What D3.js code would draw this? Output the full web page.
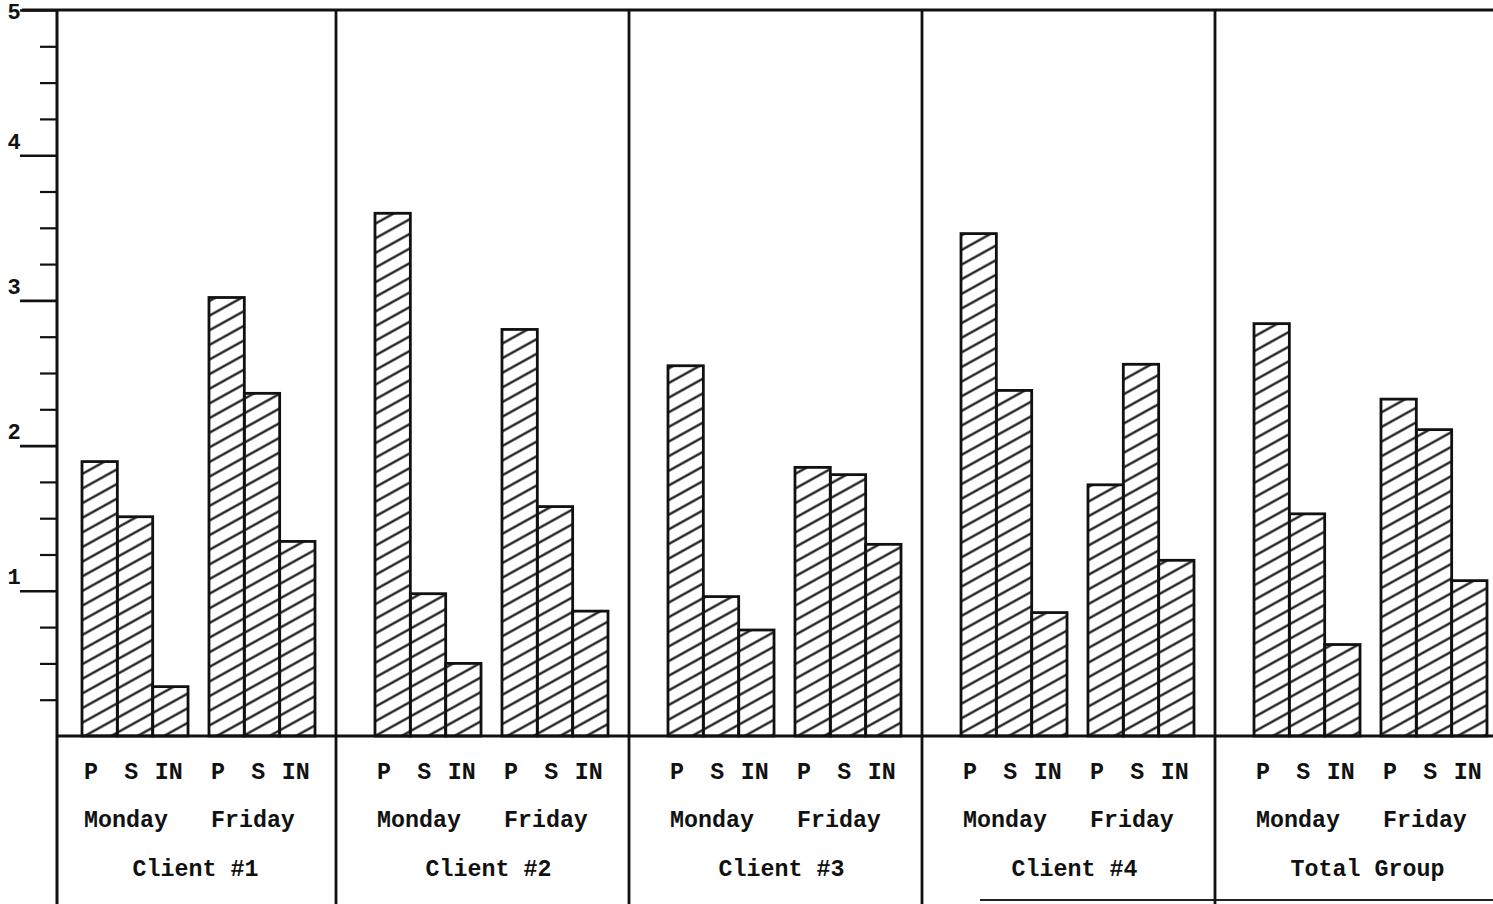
<!DOCTYPE html>
<html>
<head>
<meta charset="utf-8">
<script src="https://cdn.jsdelivr.net/npm/d3@7"></script>
<style>
  html, body { margin: 0; padding: 0; background: #fff; }
  svg { display: block; }
  text { font-family: "Liberation Mono", "DejaVu Sans Mono", monospace; font-weight: bold; fill: #111; }
</style>
</head>
<body>
<svg id="chart" width="1493" height="904"></svg>
<script>
// ---- Data ----
const clients = ["Client #1", "Client #2", "Client #3", "Client #4", "Total Group"];
const days = ["Monday", "Friday"];
const measures = ["P", "S", "IN"];
// values per client: [P, S, IN]
const mondayValues = [
  [1.89, 1.51, 0.34],
  [3.60, 0.98, 0.50],
  [2.55, 0.96, 0.73],
  [3.46, 2.38, 0.85],
  [2.84, 1.53, 0.63]
];
const fridayValues = [
  [3.02, 2.36, 1.34],
  [2.80, 1.58, 0.86],
  [1.85, 1.80, 1.32],
  [1.73, 2.56, 1.21],
  [2.32, 2.11, 1.07]
];
const majorTicks = [1, 2, 3, 4, 5];
const minorTicks = d3.range(0.25, 5, 0.25).filter(v => Math.abs(v - Math.round(v)) > 1e-6);

// ---- Layout ----
const W = 1493, H = 904;
const axisX = 57, baseY = 736, topY = 10;
const svg = d3.select("#chart");

const y = d3.scaleLinear().domain([0, 5]).range([baseY, topY]);
const xClient = d3.scaleBand().domain(clients).range([43, 1508]).padding(0);
const xDay = d3.scaleBand().domain(days).range([39, 272]).paddingInner(0.165).paddingOuter(0);
const xMeas = d3.scaleBand().domain(measures).range([0, xDay.bandwidth()]).padding(0);

// hatch pattern
const defs = svg.append("defs");
const pat = defs.append("pattern")
  .attr("id", "hatch")
  .attr("patternUnits", "userSpaceOnUse")
  .attr("width", 24).attr("height", 12.8)
  .attr("patternTransform", "rotate(-29)");
pat.append("line")
  .attr("x1", -2).attr("x2", 26)
  .attr("y1", 6.4).attr("y2", 6.4)
  .attr("stroke", "#111").attr("stroke-width", 2.2);

// build flat data
const bars = [];
clients.forEach((c, ci) => {
  days.forEach(d => {
    const vals = d === "Monday" ? mondayValues[ci] : fridayValues[ci];
    measures.forEach((m, mi) => {
      bars.push({ client: c, day: d, measure: m, value: vals[mi] });
    });
  });
});
const barX = b => xClient(b.client) + xDay(b.day) + xMeas(b.measure);

// bars
svg.append("g").selectAll("rect").data(bars).join("rect")
  .attr("x", barX)
  .attr("y", b => y(b.value))
  .attr("width", xMeas.bandwidth())
  .attr("height", b => y(0) - y(b.value))
  .attr("fill", "url(#hatch)")
  .attr("stroke", "#111")
  .attr("stroke-width", 2.8);

// top line and baseline
svg.append("line").attr("x1", 22).attr("x2", W).attr("y1", y(5)).attr("y2", y(5))
  .attr("stroke", "#111").attr("stroke-width", 3);
svg.append("line").attr("x1", axisX).attr("x2", W).attr("y1", y(0)).attr("y2", y(0))
  .attr("stroke", "#111").attr("stroke-width", 2.8);
// partial bottom frame line
svg.append("line").attr("x1", 980).attr("x2", W).attr("y1", 900).attr("y2", 900)
  .attr("stroke", "#222").attr("stroke-width", 2);

// panel dividers
svg.append("g").selectAll("line").data(clients.slice(1)).join("line")
  .attr("x1", c => xClient(c)).attr("x2", c => xClient(c))
  .attr("y1", y(5)).attr("y2", H)
  .attr("stroke", "#111").attr("stroke-width", 2.8);

// y axis: minor ticks
const minorAxis = d3.axisLeft(y).tickValues(minorTicks).tickSize(17).tickFormat("");
const gMinor = svg.append("g").attr("transform", `translate(${axisX},0)`).call(minorAxis);
gMinor.select(".domain").remove();
gMinor.selectAll(".tick line").attr("stroke", "#111").attr("stroke-width", 2.2);

// y axis: major ticks with labels
const majorAxis = d3.axisLeft(y).tickValues(majorTicks).tickSize(37).tickFormat(d3.format("d"));
const gMajor = svg.append("g").attr("transform", `translate(${axisX},0)`).call(majorAxis);
gMajor.attr("font-size", null).attr("font-family", null);
gMajor.select(".domain").remove();
gMajor.selectAll(".tick line").attr("stroke", "#111").attr("stroke-width", 2.6);
gMajor.selectAll(".tick text")
  .attr("x", -43).attr("dy", d => d === 5 ? 8 : -7)
  .attr("text-anchor", "middle")
  .style("font-size", "22px")
  .style("font-family", "'Liberation Mono', monospace")
  .style("font-weight", "bold")
  .attr("fill", "#111");

// axis vertical line
svg.append("line").attr("x1", axisX).attr("x2", axisX).attr("y1", y(5)).attr("y2", H)
  .attr("stroke", "#111").attr("stroke-width", 3);

// measure labels, one per bar (typewriter spacing)
svg.append("g").selectAll("text").data(bars).join("text")
  .attr("x", b => barX(b) + (b.measure === "S" ? 7 : 2))
  .attr("y", 779)
  .style("font-size", "23.3px")
  .text(b => b.measure);

// day labels
const dayGroups = [];
clients.forEach(c => days.forEach(d => dayGroups.push({ client: c, day: d })));
svg.append("g").selectAll("text").data(dayGroups).join("text")
  .attr("x", g => xClient(g.client) + xDay(g.day) + 2)
  .attr("y", 827)
  .style("font-size", "23.3px")
  .text(g => g.day);

// client labels
svg.append("g").selectAll("text").data(clients).join("text")
  .attr("x", c => xClient(c) + xDay(days[0]) + (xDay(days[1]) + xDay.bandwidth() - xDay(days[0])) / 2 - 3)
  .attr("y", 876)
  .attr("text-anchor", "middle")
  .style("font-size", "23.3px")
  .text(c => c);
</script>
</body>
</html>
